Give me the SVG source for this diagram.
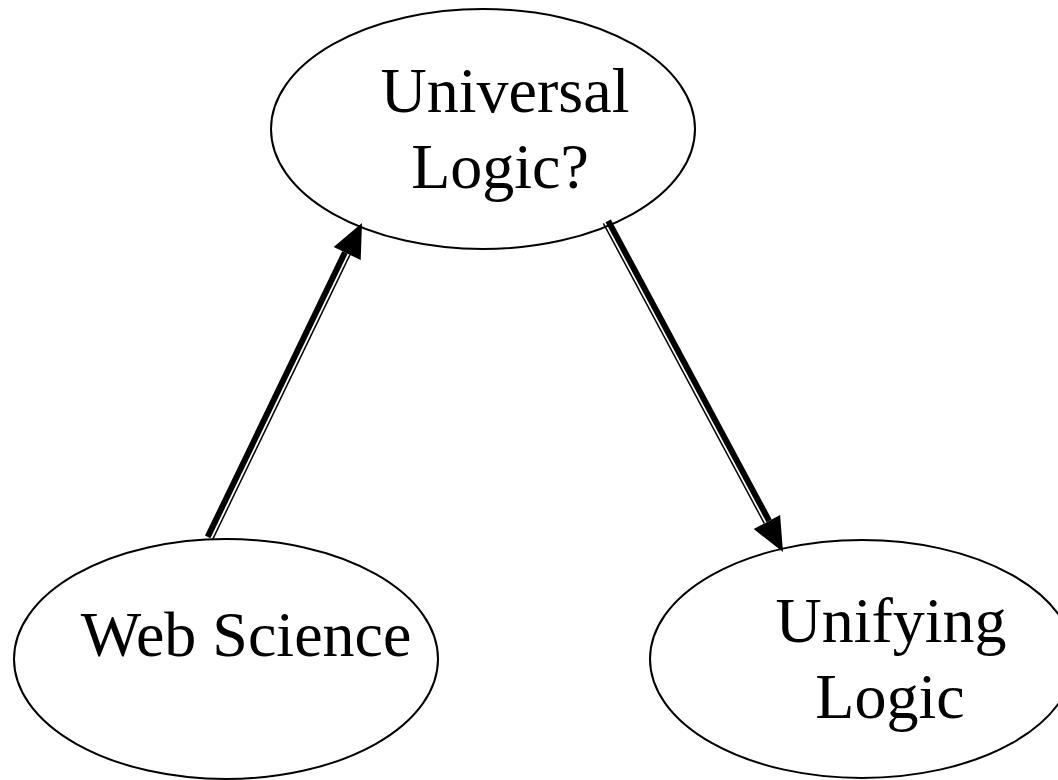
<svg xmlns="http://www.w3.org/2000/svg" width="1058" height="780" viewBox="0 0 1058 780">
  <style>
    .node { fill: #ffffff; stroke: #000000; stroke-width: 2; }
    .label { font-family: "Liberation Serif", "Times New Roman", serif; font-size: 64px; fill: #000000; text-anchor: middle; }
    .thick { stroke: #000000; stroke-width: 6; fill: none; }
    .thin { stroke: #000000; stroke-width: 1.5; fill: none; }
    .head { fill: #000000; stroke: none; }
  </style>
  <rect width="1058" height="780" fill="#ffffff"/>

  <g id="node-universal-logic">
    <ellipse class="node" cx="483" cy="129" rx="212" ry="120"/>
    <text class="label" x="505" y="112">Universal</text>
    <text class="label" x="500" y="188">Logic?</text>
  </g>

  <g id="node-web-science">
    <ellipse class="node" cx="226" cy="659" rx="212" ry="120"/>
    <text class="label" x="246" y="656">Web Science</text>
  </g>

  <g id="node-unifying-logic">
    <ellipse class="node" cx="862" cy="659" rx="212" ry="119"/>
    <text class="label" x="891" y="642">Unifying</text>
    <text class="label" x="890" y="718">Logic</text>
  </g>

  <g id="connectors">
    <!-- Web Science -> Universal Logic? (thick-thin compound line) -->
    <g id="edge-web-to-universal">
      <line class="thick" x1="207.7" y1="536.9" x2="344.9" y2="252.5"/>
      <line class="thin" x1="212.7" y1="539.3" x2="349.9" y2="254.9"/>
      <polygon class="head" points="362,223 333.7,247.1 360.7,260.1"/>
    </g>
    <!-- Universal Logic? -> Unifying Logic (thick-thin compound line) -->
    <g id="edge-universal-to-unifying">
      <line class="thick" x1="608.2" y1="220.8" x2="769.1" y2="520.8"/>
      <line class="thin" x1="603.4" y1="223.4" x2="764.3" y2="523.4"/>
      <polygon class="head" points="783,552 780.1,514.9 753.7,529.1"/>
    </g>
  </g>
</svg>
